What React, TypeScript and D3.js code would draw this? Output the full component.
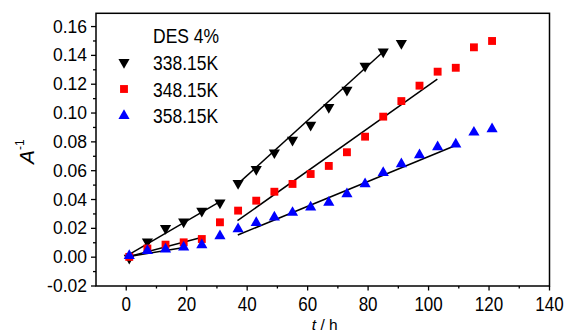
import React from "react";
import * as d3 from "d3";

// sampling times (h)
const times = [1, 7, 13, 19, 25, 31, 37, 43, 49, 55, 61, 67, 73, 79, 85, 91, 97, 103, 109, 115, 121];

// 1/A values
const k338 = [-0.0006, 0.0108, 0.020, 0.0246, 0.032, 0.0378, 0.0513, 0.061, 0.0725, 0.0813, 0.0917, 0.104, 0.116, 0.1326, 0.1425, 0.1484];
const k348 = [0.0002, 0.006, 0.0087, 0.0103, 0.0126, 0.0242, 0.0323, 0.0392, 0.0454, 0.0508, 0.0577, 0.0633, 0.0728, 0.0836, 0.0975, 0.1083, 0.119, 0.1287, 0.1314, 0.1456, 0.150];
const k358 = [0.001, 0.0045, 0.0055, 0.0069, 0.0085, 0.0147, 0.0196, 0.0239, 0.0277, 0.0309, 0.0346, 0.038, 0.0438, 0.0508, 0.0586, 0.0646, 0.0709, 0.0764, 0.0783, 0.0866, 0.0889];

// linear fit segments [t, value] start/end
const fit338 = [[[1, 0.002], [31, 0.0385]], [[37, 0.051], [85, 0.1425]]];
const fit348 = [[[1, 0.0005], [24.5, 0.0135]], [[36.8, 0.0253], [102.9, 0.1236]]];
const fit358 = [[[1, 0.0005], [18.6, 0.0066]], [[36.9, 0.0154], [109.3, 0.0778]]];

const legendTitle = "DES 4%";
const seriesNames = ["338.15K", "348.15K", "358.15K"];
const xTicks = [0, 20, 40, 60, 80, 100, 120, 140];
const yTicks = [-0.02, 0, 0.02, 0.04, 0.06, 0.08, 0.1, 0.12, 0.14, 0.16];

const W = 564;
const H = 333;
const font = "'Liberation Sans', Arial, sans-serif";

export default function App() {
    const x = d3.scaleLinear().domain([-10, 140]).range([96, 549.5]);
    const y = d3.scaleLinear().domain([-0.02, 0.1692]).range([286, 13.3]);

    const triDown = d3.symbol().type(d3.symbolTriangle).size(54)();
    const square = d3.symbol().type(d3.symbolSquare).size(62)();
    const triUp = d3.symbol().type(d3.symbolTriangle).size(54)();

    const series = [
        { name: seriesNames[0], vals: k338, fits: fit338, color: "#000000", path: triDown, rot: 180 },
        { name: seriesNames[1], vals: k348, fits: fit348, color: "#ff0000", path: square, rot: 0 },
        { name: seriesNames[2], vals: k358, fits: fit358, color: "#0000ff", path: triUp, rot: 0 },
    ];

    const line = d3.line<number[]>().x(d => x(d[0])).y(d => y(d[1]));

    const xMinor = d3.range(-10, 141, 10).filter(v => !xTicks.includes(v) && v > -10);
    const yMinor = d3.range(-0.01, 0.17, 0.02);

    const [x0, x1] = x.range();
    const [yb, yt] = y.range();

    return (
        <div style={{ position: "fixed", left: 0, top: 0 }}>
            <svg width={W} height={H} style={{ display: "block", background: "#fff" }}>
                {/* fit lines */}
                {series.map(s =>
                    s.fits.map((seg, i) => (
                        <path key={s.name + i} d={line(seg as number[][]) || ""} stroke="#000" strokeWidth={1.5} fill="none" />
                    ))
                )}
                {/* markers */}
                {series.map(s =>
                    s.vals.map((v, i) => (
                        <path
                            key={s.name + "p" + i}
                            d={s.path || ""}
                            fill={s.color}
                            transform={`translate(${x(times[i])},${y(v)}) rotate(${s.rot})`}
                        />
                    ))
                )}

                {/* frame */}
                <rect x={x0} y={yt} width={x1 - x0} height={yb - yt} fill="none" stroke="#000" strokeWidth={1.5} />

                {/* y axis ticks */}
                {yTicks.map(t => (
                    <g key={"yt" + t}>
                        <line x1={x0 - 5} x2={x0} y1={y(t)} y2={y(t)} stroke="#000" strokeWidth={1.3} />
                        <text transform={`translate(${x0 - 9},${y(t) + 6}) scale(1,1.05)`} textAnchor="end" fontFamily={font} fontSize={17.5} fill="#000">
                            {t.toFixed(2)}
                        </text>
                    </g>
                ))}
                {yMinor.map(t => (
                    <line key={"ym" + t} x1={x0 - 3} x2={x0} y1={y(t)} y2={y(t)} stroke="#000" strokeWidth={1.3} />
                ))}

                {/* x axis ticks */}
                {xTicks.map(t => (
                    <g key={"xt" + t}>
                        <line x1={x(t)} x2={x(t)} y1={yb} y2={yb + 4.5} stroke="#000" strokeWidth={1.3} />
                        <text transform={`translate(${x(t)},310.5) scale(1,1.2)`} textAnchor="middle" fontFamily={font} fontSize={17} fill="#000">
                            {t}
                        </text>
                    </g>
                ))}
                {xMinor.map(t => (
                    <line key={"xm" + t} x1={x(t)} x2={x(t)} y1={yb} y2={yb + 2.5} stroke="#000" strokeWidth={1.3} />
                ))}

                {/* axis titles */}
                <text x={(x0 + x1) / 2 + 2} y={329.5} textAnchor="middle" fontFamily={font} fontSize={15.5} fill="#000">
                    <tspan fontStyle="italic">t</tspan> / h
                </text>
                <text transform="translate(34,164) rotate(-90)" fontFamily={font} fontSize={21} fill="#000">
                    <tspan fontStyle="italic">A</tspan>
                    <tspan fontSize={12} dy={-10}>-1</tspan>
                </text>

                {/* legend */}
                <text transform="translate(153,43.3) scale(1,1.2)" fontFamily={font} fontSize={17.5} fill="#000">
                    {legendTitle}
                </text>
                {series.map((s, i) => (
                    <g key={"lg" + i}>
                        <path d={s.path || ""} fill={s.color} transform={`translate(124,${62.3 + i * 26.7}) rotate(${s.rot})`} />
                        <text transform={`translate(153,${70 + i * 26.7}) scale(1,1.2)`} fontFamily={font} fontSize={17.5} fill="#000">
                            {s.name}
                        </text>
                    </g>
                ))}
            </svg>
        </div>
    );
}
